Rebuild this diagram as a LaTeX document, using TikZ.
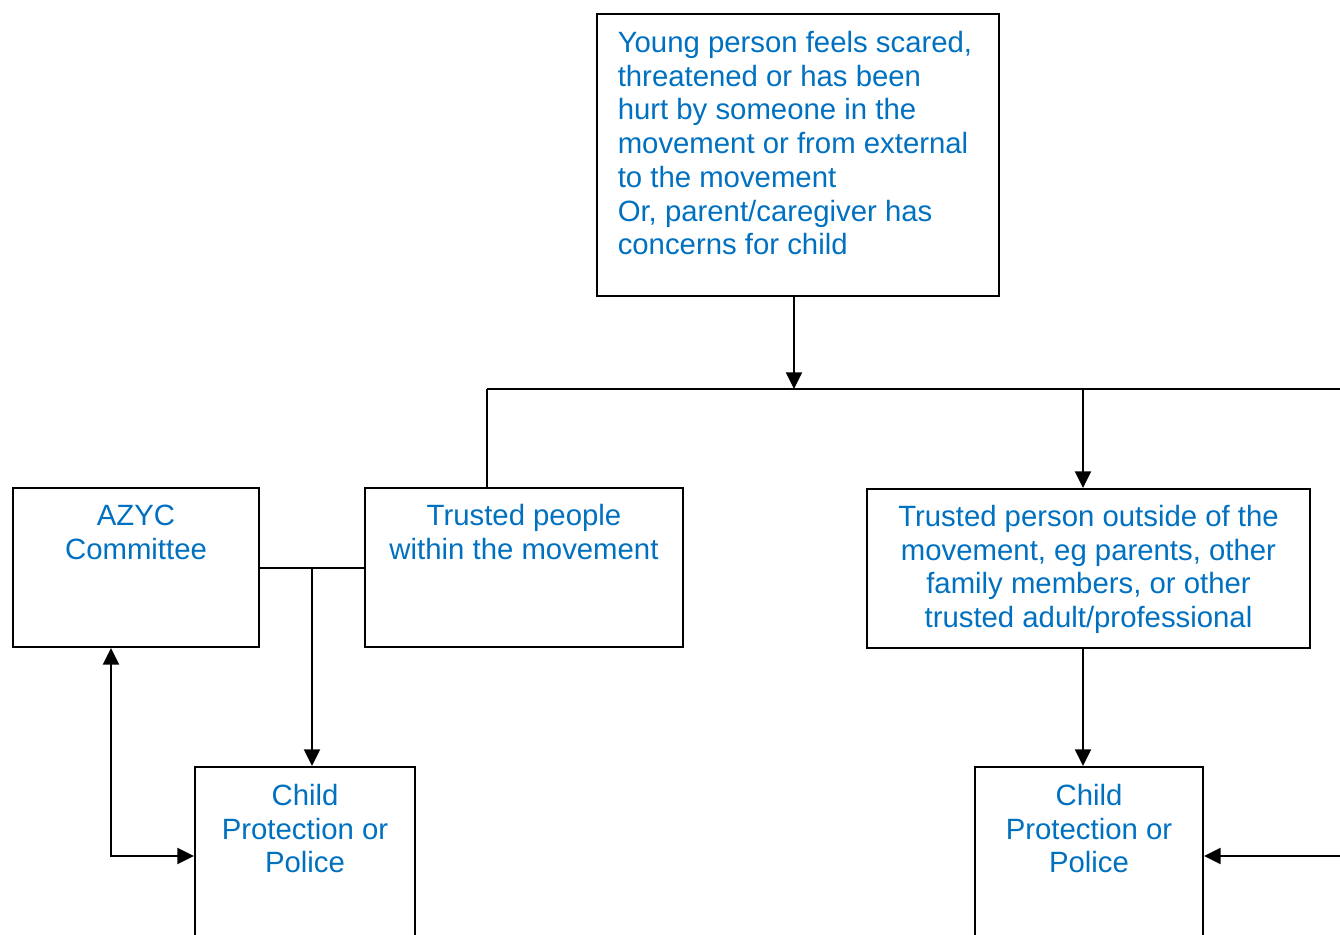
\documentclass[tikz,border=0pt]{standalone}
\usepackage{fontspec}
\setmainfont{Liberation Sans}
\usetikzlibrary{arrows.meta,fit,calc}
\definecolor{txtblue}{HTML}{0070C0}
\tikzset{
  box/.style={draw=black, line width=1.5pt, inner sep=0pt, fill=none},
  txt/.style={text=txtblue, inner sep=0pt, font=\fontsize{22}{25.3}\selectfont},
  conn/.style={draw=black, line width=1.5pt},
  arr/.style={conn, -{Triangle[length=12.5pt,width=12pt]}},
  darr/.style={conn, {Triangle[length=12.5pt,width=12pt]}-{Triangle[length=12.5pt,width=12pt]}},
}
\begin{document}
\begin{tikzpicture}[x=0.75pt,y=-0.75pt]
\useasboundingbox (0,0) rectangle (1340,935);
\clip (0,0) rectangle (1340,935);
% boxes
\node[box, fit={(597,14) (999,296)}] (top) {};
\node[box, fit={(13,488) (259,647)}] (azyc) {};
\node[box, fit={(365,488) (683,647)}] (tpw) {};
\node[box, fit={(867,489) (1310,648)}] (tpo) {};
\node[box, fit={(195,767) (415,1000)}] (cpl) {};
\node[box, fit={(975,767) (1203,1000)}] (cpr) {};
% texts
\node[txt, anchor=north west, align=left] (toptext) at (617.5,31) {Young person feels scared,\\threatened or has been\\hurt by someone in the\\movement or from external\\to the movement\\Or, parent/caregiver has\\concerns for child};
\node[txt, anchor=north, align=center] (azyctext) at (136,505) {AZYC\\Committee};
\node[txt, anchor=north, align=center] (tpwtext) at (524,504) {Trusted people\\within the movement};
\node[txt, anchor=north, align=center] (tpotext) at (1088.5,505) {Trusted person outside of the\\movement, eg parents, other\\family members, or other\\trusted adult/professional};
\node[txt, anchor=north, align=center] (cpltext) at (305,784) {Child\\Protection or\\Police};
\node[txt, anchor=north, align=center] (cprtext) at (1089,784) {Child\\Protection or\\Police};
% junction coordinates
\coordinate (jt) at (794,389);
\coordinate (busL) at (487,389);
\coordinate (busR) at (1345,389);
\coordinate (j2) at (1083,389);
\coordinate (j3) at (312,568);
\coordinate (c4) at (111,856);
\coordinate (edgeR) at (1345,856);
% connectors
\draw[arr] (top.south -| jt) -- (jt);
\draw[conn] (busL) -- (busR);
\draw[conn] (busL) -- (busL |- tpw.north);
\draw[arr] (j2) -- (j2 |- tpo.north);
\draw[conn] (azyc.east) -- (tpw.west);
\draw[arr] (j3) -- (j3 |- cpl.north);
\draw[darr] (azyc.south -| c4) -- (c4) -- (c4 -| cpl.west);
\draw[arr] (tpo.south -| j2) -- (j2 |- cpr.north);
\draw[arr] (edgeR) -- (edgeR -| cpr.east);
\end{tikzpicture}
\end{document}
